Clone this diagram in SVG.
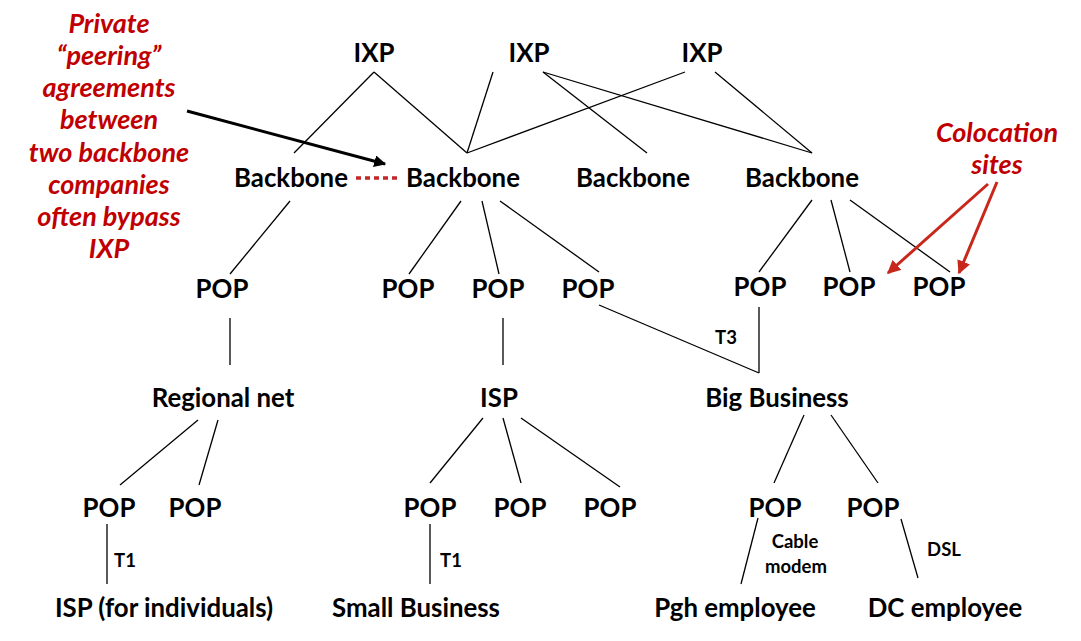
<svg xmlns="http://www.w3.org/2000/svg" width="1081" height="641" viewBox="0 0 1081 641">
  <defs>
    <style>
      .n { font-family: Lato, "Liberation Sans", sans-serif; font-weight: 700; font-size: 25.8px; fill: #000; text-anchor: middle; }
      .s { font-family: Lato, "Liberation Sans", sans-serif; font-weight: 700; font-size: 18.5px; fill: #000; text-anchor: middle; }
      .r { font-family: Lato, "Liberation Sans", sans-serif; font-weight: 700; font-style: italic; font-size: 27px; fill: #c00000; text-anchor: middle; }
      .e line { stroke: #000; stroke-width: 1.3; }
    </style>
    <marker id="ab" viewBox="0 0 10 10" refX="9" refY="5" markerWidth="4" markerHeight="4" orient="auto" markerUnits="strokeWidth">
      <path d="M0,0 L10,5 L0,10 z" fill="#000"/>
    </marker>
    <marker id="ar" viewBox="0 0 10 10" refX="9" refY="5" markerWidth="4.5" markerHeight="4.5" orient="auto" markerUnits="strokeWidth">
      <path d="M0,0 L10,5 L0,10 z" fill="#c8281c"/>
    </marker>
  </defs>
  <rect width="1081" height="641" fill="#fff"/>

  <g id="connectors" class="e">
    <line x1="374" y1="72" x2="294" y2="153"/>
    <line x1="374" y1="72" x2="467" y2="153"/>
    <line x1="493" y1="72" x2="467" y2="153"/>
    <line x1="685" y1="72" x2="467" y2="153"/>
    <line x1="543" y1="72" x2="647" y2="153"/>
    <line x1="543" y1="72" x2="812" y2="153"/>
    <line x1="715" y1="72" x2="812" y2="153"/>
    <line x1="290" y1="201" x2="230" y2="274"/>
    <line x1="461" y1="201" x2="409" y2="274"/>
    <line x1="482" y1="201" x2="499" y2="274"/>
    <line x1="500" y1="201" x2="599" y2="272"/>
    <line x1="812" y1="200" x2="759" y2="272"/>
    <line x1="831" y1="200" x2="850" y2="272"/>
    <line x1="850" y1="200" x2="950" y2="272"/>
    <line x1="230" y1="318" x2="230" y2="365"/>
    <line x1="503" y1="318" x2="503" y2="365"/>
    <line x1="599" y1="305" x2="759" y2="373"/>
    <line x1="759" y1="307" x2="759" y2="373"/>
    <line x1="198" y1="420" x2="120" y2="485"/>
    <line x1="218" y1="420" x2="199" y2="485"/>
    <line x1="483" y1="418" x2="430" y2="483"/>
    <line x1="503" y1="418" x2="521" y2="483"/>
    <line x1="521" y1="418" x2="620" y2="487"/>
    <line x1="804" y1="415" x2="774" y2="483"/>
    <line x1="831" y1="415" x2="878" y2="483"/>
    <line x1="107" y1="524" x2="107" y2="584"/>
    <line x1="430" y1="524" x2="430" y2="584"/>
    <line x1="758" y1="518" x2="741" y2="584"/>
    <line x1="901" y1="519" x2="918" y2="578"/>
    <line x1="356" y1="178" x2="400" y2="178" stroke-dasharray="5,4" style="stroke:#c0282a;stroke-width:3.5"/>
    <line x1="187" y1="111" x2="385" y2="164" style="stroke:#000;stroke-width:3" marker-end="url(#ab)"/>
    <line x1="988" y1="184" x2="888" y2="273" style="stroke:#c8281c;stroke-width:3" marker-end="url(#ar)"/>
    <line x1="997" y1="182" x2="959" y2="273" style="stroke:#c8281c;stroke-width:3" marker-end="url(#ar)"/>
  </g>

  <g id="ixp1"><text class="n" x="374" y="62">IXP</text></g>
  <g id="ixp2"><text class="n" x="529" y="62">IXP</text></g>
  <g id="ixp3"><text class="n" x="702" y="62">IXP</text></g>

  <g id="bb1"><text class="n" x="291" y="187">Backbone</text></g>
  <g id="bb2"><text class="n" x="463" y="187">Backbone</text></g>
  <g id="bb3"><text class="n" x="633" y="187">Backbone</text></g>
  <g id="bb4"><text class="n" x="802" y="187">Backbone</text></g>

  <g id="pop1"><text class="n" x="222" y="298">POP</text></g>
  <g id="pop2"><text class="n" x="408" y="298">POP</text></g>
  <g id="pop3"><text class="n" x="498" y="298">POP</text></g>
  <g id="pop4"><text class="n" x="588" y="298">POP</text></g>
  <g id="pop5"><text class="n" x="760" y="296">POP</text></g>
  <g id="pop6"><text class="n" x="849" y="296">POP</text></g>
  <g id="pop7"><text class="n" x="939" y="296">POP</text></g>

  <g id="regional"><text class="n" x="223" y="407">Regional net</text></g>
  <g id="isp"><text class="n" x="499" y="407">ISP</text></g>
  <g id="bigbiz"><text class="n" x="777" y="407">Big Business</text></g>

  <g id="pop8"><text class="n" x="109" y="517">POP</text></g>
  <g id="pop9"><text class="n" x="195" y="517">POP</text></g>
  <g id="pop10"><text class="n" x="430" y="517">POP</text></g>
  <g id="pop11"><text class="n" x="520" y="517">POP</text></g>
  <g id="pop12"><text class="n" x="610" y="517">POP</text></g>
  <g id="pop13"><text class="n" x="775" y="517">POP</text></g>
  <g id="pop14"><text class="n" x="873" y="517">POP</text></g>

  <g id="ispind"><text class="n" x="164" y="617">ISP (for individuals)</text></g>
  <g id="smallbiz"><text class="n" x="416" y="617">Small Business</text></g>
  <g id="pgh"><text class="n" x="735" y="617">Pgh employee</text></g>
  <g id="dc"><text class="n" x="945" y="617">DC employee</text></g>

  <g id="labels">
    <text class="s" x="125" y="567">T1</text>
    <text class="s" x="451" y="567">T1</text>
    <text class="s" x="726" y="344">T3</text>
    <text class="s" x="795" y="548">Cable</text>
    <text class="s" x="796" y="573">modem</text>
    <text class="s" x="944" y="556">DSL</text>
  </g>

  <g id="note-peering">
    <text class="r" x="109" y="33">Private</text>
    <text class="r" x="109" y="65">“peering”</text>
    <text class="r" x="109" y="97">agreements</text>
    <text class="r" x="109" y="129">between</text>
    <text class="r" x="109" y="162">two backbone</text>
    <text class="r" x="109" y="194">companies</text>
    <text class="r" x="109" y="226">often bypass</text>
    <text class="r" x="109" y="258">IXP</text>
  </g>

  <g id="note-colocation">
    <text class="r" x="997" y="142">Colocation</text>
    <text class="r" x="997" y="174">sites</text>
  </g>
</svg>
